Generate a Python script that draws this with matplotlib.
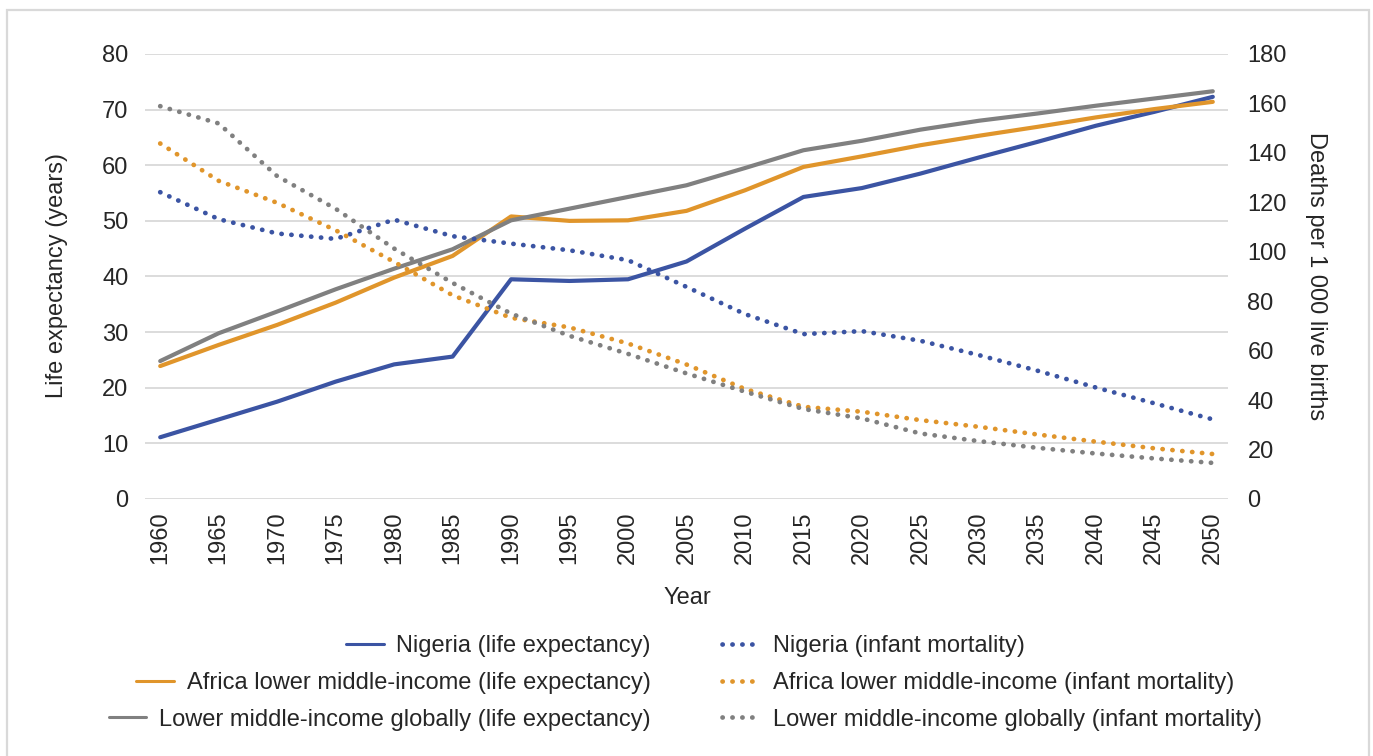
import matplotlib
matplotlib.use("Agg")
import matplotlib.pyplot as plt
from matplotlib.patches import Rectangle

FS = 17
plt.rcParams['font.family'] = ['Liberation Sans', 'DejaVu Sans']
plt.rcParams['font.size'] = FS

years = list(range(1960, 2051, 5))

nigeria_le = [11.1, 14.3, 17.5, 21.1, 24.2, 25.6, 39.5, 39.2, 39.5, 42.7, 48.6, 54.3, 55.9, 58.5, 61.4, 64.2, 67.1, 69.6, 72.3]
africa_le = [23.9, 27.7, 31.3, 35.3, 39.8, 43.7, 50.8, 50.0, 50.1, 51.8, 55.5, 59.7, 61.6, 63.6, 65.3, 66.9, 68.6, 70.1, 71.4]
global_le = [24.8, 29.8, 33.7, 37.7, 41.4, 44.9, 50.1, 52.2, 54.3, 56.4, 59.5, 62.7, 64.4, 66.4, 68.0, 69.3, 70.7, 72.0, 73.3]

nigeria_im = [124.1, 113.2, 107.4, 105.2, 113.0, 106.3, 103.3, 100.6, 96.6, 85.8, 74.8, 66.7, 67.9, 64.0, 58.2, 51.9, 45.1, 38.7, 32.2]
africa_im = [143.8, 128.7, 119.8, 108.7, 95.9, 82.4, 73.3, 69.4, 62.9, 54.4, 44.5, 37.3, 35.3, 31.9, 29.2, 26.1, 23.2, 20.5, 18.2]
global_im = [158.9, 151.9, 130.6, 117.4, 101.3, 87.4, 75.0, 66.0, 58.7, 50.8, 43.4, 36.4, 32.6, 26.5, 23.4, 20.7, 18.4, 16.4, 14.6]

le_labels = ["Nigeria (life expectancy)",
             "Africa lower middle-income (life expectancy)",
             "Lower middle-income globally (life expectancy)"]
im_labels = ["Nigeria (infant mortality)",
             "Africa lower middle-income (infant mortality)",
             "Lower middle-income globally (infant mortality)"]

left_ticks = list(range(0, 81, 10))
right_ticks = list(range(0, 181, 20))

BLUE = '#3b54a3'
ORANGE = '#e0952b'
GREY = '#808080'
TXT = '#262626'
colors = [BLUE, ORANGE, GREY]

W, H = 1373, 756
fig = plt.figure(figsize=(W / 100, H / 100), dpi=100)
fig.patch.set_facecolor('white')

ax_l, ax_r, ax_t, ax_b = 145, 1228, 54, 499
ax = fig.add_axes([ax_l / W, 1 - ax_b / H, (ax_r - ax_l) / W, (ax_b - ax_t) / H])
ax2 = ax.twinx()

le_series = [nigeria_le, africa_le, global_le]
im_series = [nigeria_im, africa_im, global_im]

le_handles = []
for s, c, lab in zip(le_series, colors, le_labels):
    h, = ax.plot(years, s, color=c, lw=3.0, solid_capstyle='round', solid_joinstyle='round', label=lab, zorder=3)
    le_handles.append(h)

im_handles = []
for s, c, lab in zip(im_series, colors, im_labels):
    h, = ax2.plot(years, s, color=c, lw=3.4, ls=(0, (0.05, 2.05)), dash_capstyle='round', label=lab, zorder=3)
    im_handles.append(h)

pad = 1.3
ax.set_xlim(years[0] - pad, years[-1] + pad)
ax.set_ylim(0, 80)
ax2.set_ylim(0, 180)
ax.set_xticks(years)
ax.set_xticklabels([str(y) for y in years])
ax.set_yticks(left_ticks)
ax2.set_yticks(right_ticks)

ax.grid(axis='y', color='#d9d9d9', lw=1.3)
ax.set_axisbelow(True)
for a in (ax, ax2):
    for sp in a.spines.values():
        sp.set_visible(False)

ax.tick_params(axis='x', length=0, pad=9, labelrotation=90, labelcolor=TXT, labelsize=FS)
ax.tick_params(axis='y', length=0, pad=12, labelcolor=TXT, labelsize=FS)
ax2.tick_params(axis='y', length=0, pad=14, labelcolor=TXT, labelsize=FS)
for t in ax.get_xticklabels():
    t.set_va('top')
    t.set_ha('center')

fig.text(57 / W, 1 - 276 / H, "Life expectancy (years)", rotation=90, ha='center', va='center', color=TXT, fontsize=FS)
fig.text(1316 / W, 1 - 276 / H, "Deaths per 1 000 live births", rotation=270, ha='center', va='center', color=TXT, fontsize=FS)
fig.text(687 / W, 1 - 598 / H, "Year", ha='center', va='center', color=TXT, fontsize=FS)

leg_kw = dict(frameon=False, borderpad=0, borderaxespad=0, handlelength=1.6, handletextpad=0.55,
              labelspacing=0.62, fontsize=FS, labelcolor=TXT)
leg1 = fig.legend(handles=le_handles, loc='center right', bbox_to_anchor=(651 / W, 1 - 683 / H), **leg_kw)
try:
    leg1._legend_handle_box.get_children()[0].align = 'right'
except Exception:
    pass
for lh in leg1.legend_handles:
    lh.set_linewidth(2.2)
leg2 = fig.legend(handles=im_handles, loc='center left', bbox_to_anchor=(722 / W, 1 - 683 / H), **leg_kw)

fig.patches.append(Rectangle((7 / W, -0.05), (1369 - 7) / W, (1 - 10 / H) + 0.05,
                             transform=fig.transFigure, fill=False, ec='#d9d9d9', lw=1.6))

fig.savefig('out.png', dpi=100)
